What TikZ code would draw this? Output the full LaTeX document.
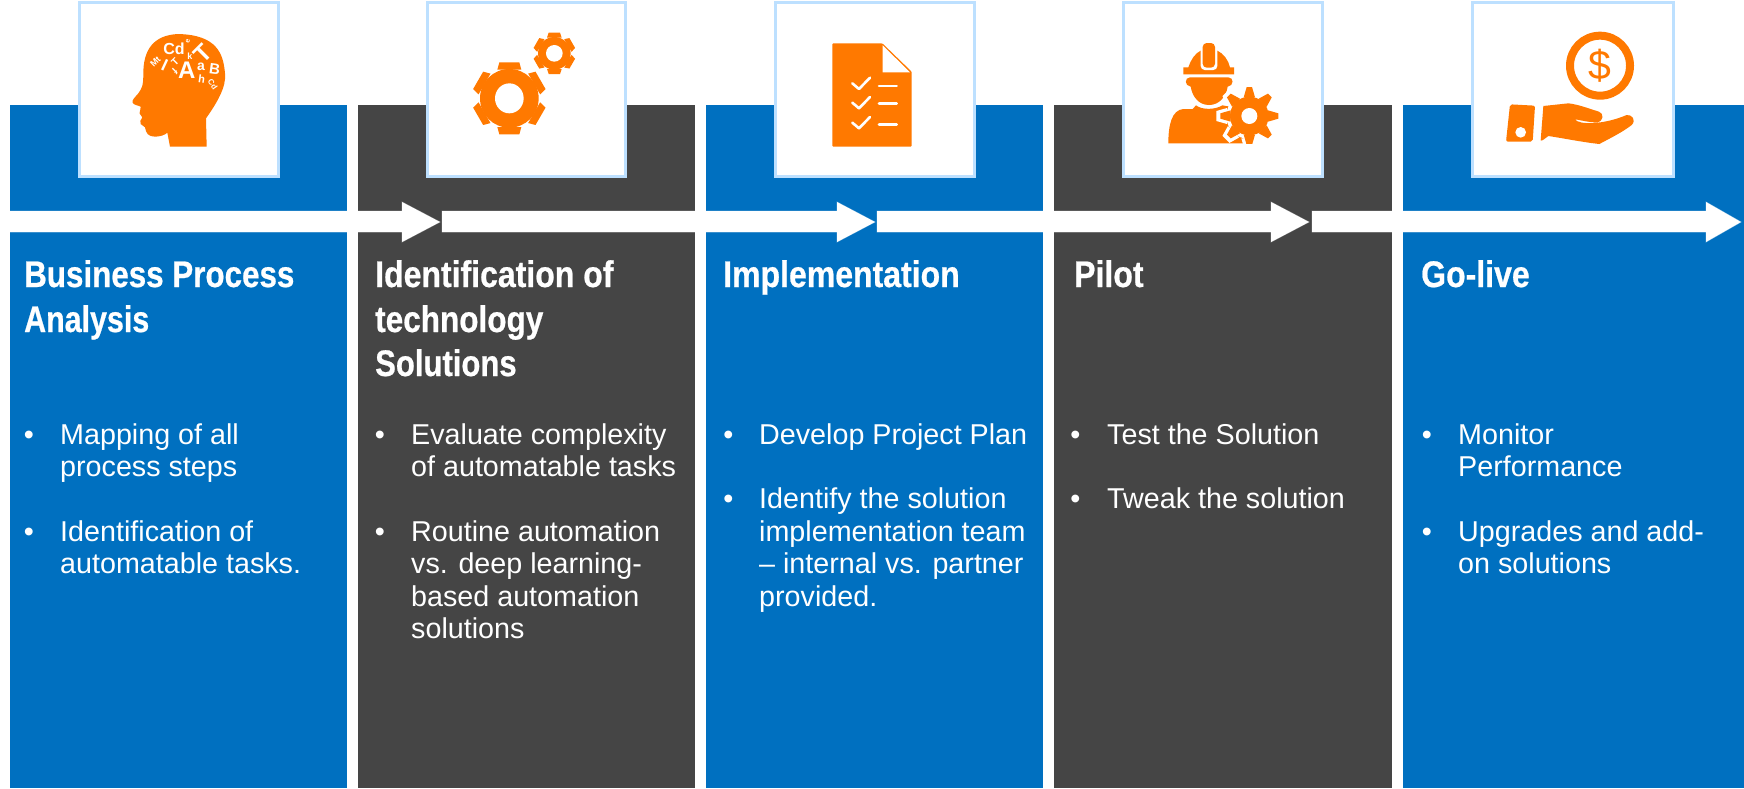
\documentclass[tikz,border=0pt]{standalone}
\usepackage{fontspec}
\setmainfont{Liberation Sans}
\newfontfamily\titlefont[FakeStretch=0.865,FakeBold=0.6]{Liberation Sans Bold}
\definecolor{pblue}{HTML}{0070C0}
\definecolor{pdark}{HTML}{454545}
\definecolor{porange}{HTML}{FF7900}
\definecolor{pframe}{HTML}{BDE0FF}
\tikzset{
  panelblue/.style={fill=pblue},
  paneldark/.style={fill=pdark},
  flow/.style={fill=white,draw=white,draw opacity=.35,line width=.8pt},
  iconframe/.style={fill=white,draw=pframe,line width=3pt},
  titletext/.style={anchor=base west,inner sep=0pt,text=white,align=left,font=\titlefont\fontsize{37}{45}\selectfont},
  titlefit/.style={xscale=#1,transform shape},
  bodytext/.style={anchor=base west,inner sep=0pt,text=white,align=left,font=\fontsize{28.7}{32.6}\selectfont},
  bullettext/.style={anchor=base,inner sep=0pt,text=white,font=\fontsize{28.7}{32.6}\selectfont},
  glyph/.style={inner sep=0pt,text=white,font=\bfseries\fontsize{#1}{#1}\selectfont},
}
% #1 colour, #2 centre, #3 outer r, #4 root r, #5 tip half width, #6 base half width, #7 tooth angles
\newcommand{\cogwheel}[7]{%
  \fill[#1] #2 circle[radius=#4];
  \foreach \a in {#7}{\fill[#1,shift={#2},rotate=\a] (-#6,#4-2) -- (-#5,#3) -- (#5,#3) -- (#6,#4-2) -- cycle;}
}
\begin{document}
\begin{tikzpicture}[x=1pt,y=-1pt]
\useasboundingbox (0,0) rectangle (1744,788);
% panels
\fill[panelblue] (10,105) rectangle (347,788);
\fill[paneldark] (358,105) rectangle (695,788);
\fill[panelblue] (706,105) rectangle (1043,788);
\fill[paneldark] (1054,105) rectangle (1392,788);
\fill[panelblue] (1403,105) rectangle (1744,788);
% flow arrows
\path[flow] (10,211) -- (402,211) -- (402,202) -- (440,222) -- (402,242) -- (402,232) -- (10,232) -- cycle;
\path[flow] (442,211) -- (837,211) -- (837,202) -- (875,222) -- (837,242) -- (837,232) -- (442,232) -- cycle;
\path[flow] (877,211) -- (1271,211) -- (1271,202) -- (1309,222) -- (1271,242) -- (1271,232) -- (877,232) -- cycle;
\path[flow] (1312,211) -- (1706,211) -- (1706,202) -- (1741,222) -- (1706,242) -- (1706,232) -- (1312,232) -- cycle;
% frames
\path[iconframe] (79,2.5) rectangle (278.5,176.5);
\path[iconframe] (427,2.5) rectangle (625.5,176.5);
\path[iconframe] (775,2.5) rectangle (974,176.5);
\path[iconframe] (1123,2.5) rectangle (1322.5,176.5);
\path[iconframe] (1472.5,2.5) rectangle (1673,176.5);
% head icon
\begin{scope}[shift={(110,20)},scale=0.33333]
\fill[porange] (290,380) -- (288,295) .. controls (320,250) and (350,200) .. (345,160) .. controls (340,100) and (320,45) .. (205,42) .. controls (130,45) and (100,90) .. (100,160) .. controls (100,200) and (95,205) .. (85,220) .. controls (75,232) and (65,240) .. (68,248) .. controls (72,256) and (85,256) .. (92,260) .. controls (92,272) and (85,280) .. (92,285) -- (97,292) .. controls (92,300) and (88,305) .. (92,312) -- (105,322) .. controls (108,340) and (115,350) .. (135,350) .. controls (150,350) and (165,345) .. (172,338) -- (180,380) -- cycle;
\node[glyph=16] (g1) at (192,85) {Cd};
\node[glyph=7,rotate=80] (g2) at (234,65) {e};
\node[glyph=9] (g3) at (240,108) {k};
\node[glyph=24,rotate=45] (g4) at (280,100) {T};
\node[glyph=9,rotate=45] (g5) at (136,125) {Mt};
\node[glyph=17,rotate=-25] (g6) at (164,136) {I};
\node[glyph=10,rotate=45] (g7) at (195,125) {T};
\node[glyph=10,rotate=-135] (g8) at (195,155) {f};
\node[glyph=24] (g9) at (230,152) {A};
\node[glyph=14] (g10) at (273,140) {a};
\node[glyph=15,rotate=-8] (g11) at (314,146) {B};
\node[glyph=11,rotate=-8] (g12) at (275,178) {h};
\node[glyph=8,rotate=-55] (g13) at (308,193) {Cd};
\end{scope}
% gears icon
\begin{scope}[shift={(460,20)},scale=0.33333]
\cogwheel{porange}{(148,235)}{108}{88}{30}{36}{0,60,120,180,240,300}
\fill[white] (148,235) ellipse[x radius=43,y radius=45];
\cogwheel{porange}{(283,100)}{62}{49}{17}{22}{0,60,120,180,240,300}
\fill[white] (283,100) circle[radius=25];
\end{scope}
% checklist icon
\begin{scope}[shift={(820,35)},scale=0.33333]
\fill[porange,rounded corners=1pt] (37,25) -- (187,25) -- (275,110) -- (275,335) -- (37,335) -- cycle;
\fill[white] (188,31) -- (188,112) -- (270,112) -- cycle;
\foreach \yy in {0,58,118}{
  \draw[white,line width=2.6pt,line cap=round,line join=round] (97,145+\yy) -- (117,162+\yy) -- (150,128+\yy);
}
\draw[white,line width=2.6pt,line cap=round] (177,153) -- (230,153);
\draw[white,line width=2.6pt,line cap=round] (177,205) -- (230,205);
\draw[white,line width=2.6pt,line cap=round] (177,268) -- (230,268);
\end{scope}
% worker icon
\begin{scope}[shift={(1160,35)},scale=0.33333]
\fill[porange] (70,97) -- (85,97) .. controls (92,75) and (105,55) .. (122,47) -- (172,47) .. controls (190,55) and (205,75) .. (210,97) -- (222,97) -- (222,118) -- (70,118) -- cycle;
\fill[white,rounded corners=4pt] (122,20) rectangle (172,105);
\fill[porange,rounded corners=4pt] (128,24) rectangle (165,98);
\fill[porange] (90,127) -- (205,127) .. controls (222,127) and (222,153) .. (203,155) .. controls (198,185) and (178,210) .. (147,210) .. controls (116,210) and (97,185) .. (92,155) .. controls (73,153) and (73,127) .. (90,127) -- cycle;
\fill[porange] (25,325) .. controls (25,270) and (35,225) .. (70,222) -- (98,222) -- (108,211) .. controls (125,225) and (165,225) .. (187,211) -- (250,222) -- (250,325) -- cycle;
\cogwheel{white}{(268,243)}{99}{69}{15}{24}{0,45,90,135,180,225,270,315}
\begin{scope}
\clip (150,100) rectangle (400,325);
\cogwheel{porange}{(268,243)}{87}{58}{8}{17}{0,45,90,135,180,225,270,315}
\end{scope}
\fill[white] (268,243) circle[radius=24];
\end{scope}
% hand and coin icon
\begin{scope}[shift={(1500,25)},scale=0.33333]
\draw[porange,line width=8pt] (300,122) circle[radius=90];
\node[inner sep=0pt,text=porange,font=\fontsize{41}{41}\selectfont] (dollar) at (300,122) {\$};
\fill[porange,rounded corners=2pt] (30,238) -- (105,242) -- (98,350) -- (18,350) -- cycle;
\fill[white] (62,322) circle[radius=16];
\fill[porange] (130,243) -- (205,235) .. controls (235,238) and (270,252) .. (297,260) .. controls (312,265) and (312,290) .. (290,292) .. controls (270,293) and (240,285) .. (225,283) .. controls (235,300) and (310,300) .. (380,270) .. controls (395,268) and (410,285) .. (395,300) .. controls (370,320) and (330,340) .. (298,357) .. controls (250,352) and (180,338) .. (145,333) .. controls (135,340) and (125,350) .. (122,346) -- cycle;
\end{scope}
% panel 1
\node[titletext,titlefit=.98] (t1a) at (24,287) {Business Process};
\node[titletext,titlefit=.95] (t1b) at (24,332) {Analysis};
\node[bullettext] (b1a) at (29,444) {•};
\node[bodytext] (p1a1) at (60,444) {Mapping of all};
\node[bodytext] (p1a2) at (60,476) {process steps};
\node[bullettext] (b1b) at (29,541) {•};
\node[bodytext] (p1b1) at (60,541) {Identification of};
\node[bodytext] (p1b2) at (60,573.5) {automatable tasks.};
% panel 2
\node[titletext] (t2a) at (375,287) {Identification of};
\node[titletext,titlefit=.985] (t2b) at (375,332) {technology};
\node[titletext,titlefit=.97] (t2c) at (375,376) {Solutions};
\node[bullettext] (b2a) at (380,444) {•};
\node[bodytext] (p2a1) at (411,444) {Evaluate complexity};
\node[bodytext] (p2a2) at (411,476) {of automatable tasks};
\node[bullettext] (b2b) at (380,541) {•};
\node[bodytext] (p2b1) at (411,541) {Routine automation};
\node[bodytext] (p2b2) at (411,573.5) {vs. deep learning-};
\node[bodytext] (p2b3) at (411,606) {based automation};
\node[bodytext] (p2b4) at (411,638.5) {solutions};
% panel 3
\node[titletext] (t3a) at (723,287) {Implementation};
\node[bullettext] (b3a) at (728.5,444) {•};
\node[bodytext] (p3a1) at (759,444) {Develop Project Plan};
\node[bullettext] (b3b) at (728.5,508.5) {•};
\node[bodytext] (p3b1) at (759,508.5) {Identify the solution};
\node[bodytext] (p3b2) at (759,541) {implementation team};
\node[bodytext] (p3b3) at (759,573.5) {– internal vs. partner};
\node[bodytext] (p3b4) at (759,606) {provided.};
% panel 4
\node[titletext] (t4a) at (1074,287) {Pilot};
\node[bullettext] (b4a) at (1075.5,444) {•};
\node[bodytext] (p4a1) at (1107,444) {Test the Solution};
\node[bullettext] (b4b) at (1075.5,508.5) {•};
\node[bodytext] (p4b1) at (1107,508.5) {Tweak the solution};
% panel 5
\node[titletext] (t5a) at (1421,287) {Go-live};
\node[bullettext] (b5a) at (1427,444) {•};
\node[bodytext] (p5a1) at (1458,444) {Monitor};
\node[bodytext] (p5a2) at (1458,476) {Performance};
\node[bullettext] (b5b) at (1427,541) {•};
\node[bodytext] (p5b1) at (1458,541) {Upgrades and add-};
\node[bodytext] (p5b2) at (1458,573.5) {on solutions};
\end{tikzpicture}
\end{document}
